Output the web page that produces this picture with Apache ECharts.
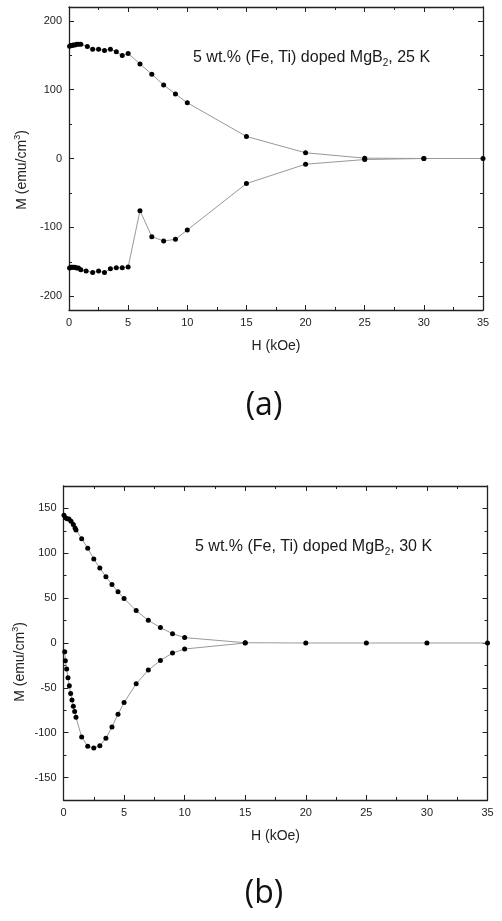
<!DOCTYPE html>
<html>
<head>
<meta charset="utf-8">
<script src="https://cdn.jsdelivr.net/npm/echarts@6/dist/echarts.min.js"></script>
<style>html,body{margin:0;padding:0;background:#fff;}#c{width:502px;height:921px;}</style>
</head>
<body>
<div id="c"></div>
<script>
// Panel (a): 25 K
var aUpH = [0.05,0.15,0.25,0.35,0.5,0.65,0.8,1.0,1.55,2.0,2.5,3.0,3.5,4.0,4.5,5.0,6.0,7.0,8.0,9.0,10.0,15.0,20.0,25.0,30.0,35.0];
var aUpM = [163,164,164,165,165,166,166,166,162.5,158.7,158.7,157,158.7,155,149.5,152.4,137.3,122.3,106.7,93.6,81,32,8.3,0.5,0,0];
var aDnH = [0.05,0.15,0.25,0.35,0.5,0.65,0.8,1.0,1.45,2.0,2.5,3.0,3.5,4.0,4.5,5.0,6.0,7.0,8.0,9.0,10.0,15.0,20.0,25.0,30.0];
var aDnM = [-159,-158,-158,-158,-158,-159,-159,-161.6,-163.5,-165.5,-163.5,-165.5,-160,-158.7,-158.7,-157.7,-75.7,-113.5,-119.8,-117.4,-103.8,-36.4,-8.3,-1.5,0];
// Panel (b): 30 K
var bUpH = [0.04,0.15,0.3,0.45,0.62,0.81,0.95,1.03,1.5,2.0,2.5,3.0,3.5,4.0,4.5,5.0,6.0,7.0,8.0,9.0,10.0,15.0,20.0,25.0,30.0,35.0];
var bUpM = [142.4,139.5,138.5,138.3,135.7,132,128.2,126,116.3,105.5,93.6,83.5,73.8,65.2,57,49.6,36.1,25.3,17.2,10.4,6,0.3,0,0,0,0];
var bDnH = [0.1,0.15,0.26,0.37,0.48,0.59,0.7,0.81,0.92,1.03,1.5,2.0,2.5,3.0,3.5,4.0,4.5,5.0,6.0,7.0,8.0,9.0,10.0,15.0];
var bDnM = [-9.7,-19.8,-29,-38.8,-47.7,-56.3,-63.4,-70.5,-76.4,-82.8,-104.8,-115.2,-117.1,-114.4,-106.3,-93.6,-79.4,-66.4,-45.5,-30.2,-19.4,-11.2,-6.7,0];

var aMajor = [-200,-100,0,100,200];
var aMinor = [-150,-50,50,150];
var bMajor = [-150,-100,-50,0,50,100,150];
var bMinor = [-125,-75,-25,25,75,125];
var xTicks = [0,5,10,15,20,25,30,35];

function zip(h, m) { return h.map(function (v, i) { return [v, m[i]]; }); }

var axisColor = '#222';
var FONT = 'Liberation Sans, Arial, sans-serif';
var labelFont = { color: '#222', fontSize: 11, fontFamily: FONT };

function xAx(grid, pos, labels) {
  return {
    type: 'value', gridIndex: grid, position: pos, min: 0, max: 35, interval: 5,
    name: labels ? 'H (kOe)' : '', nameLocation: 'middle', nameGap: 29,
    nameTextStyle: { color: '#222', fontSize: 14, fontFamily: FONT },
    axisLine: { show: true, onZero: false, lineStyle: { color: axisColor, width: 1.3 } },
    axisTick: { show: true, inside: true, length: 5, lineStyle: { color: axisColor } },
    minorTick: { show: true, splitNumber: 2, length: 3, lineStyle: { color: axisColor } },
    axisLabel: labels ? Object.assign({ show: true, margin: 7 }, labelFont) : { show: false },
    splitLine: { show: false }, minorSplitLine: { show: false }
  };
}
function yAx(grid, pos, lim, ticks, len, labels, line) {
  return {
    type: 'value', gridIndex: grid, position: pos, min: -lim, max: lim,
    axisLine: { show: line, onZero: false, lineStyle: { color: axisColor, width: 1.3 } },
    axisTick: { show: true, inside: true, length: len, customValues: ticks, lineStyle: { color: axisColor } },
    axisLabel: labels ? Object.assign({ show: true, margin: 7, customValues: ticks }, labelFont) : { show: false },
    splitLine: { show: false }
  };
}

function lineSeries(xi, yi, data) {
  return {
    type: 'line', xAxisIndex: xi, yAxisIndex: yi, data: data,
    symbol: 'circle', symbolSize: 5, showSymbol: true,
    itemStyle: { color: '#000' },
    lineStyle: { color: '#999', width: 1 },
    animation: false, z: 3
  };
}

function annot(x, y, temp) {
  return {
    type: 'text', x: x, y: y,
    style: {
      text: '5 wt.% (Fe, Ti) doped MgB{s|2}, ' + temp,
      fill: '#1a1a1a', fontSize: 16, fontFamily: FONT,
      verticalAlign: 'middle', lineHeight: 20,
      rich: { s: { fontSize: 10, fill: '#1a1a1a', lineHeight: 10, verticalAlign: 'bottom', fontFamily: FONT } }
    }
  };
}
function ylab(x, y) {
  return {
    type: 'text', x: x, y: y, rotation: Math.PI / 2,
    style: {
      text: 'M (emu/cm{p|3})', fill: '#222', fontSize: 14,
      fontFamily: FONT,
      align: 'center', verticalAlign: 'middle', lineHeight: 17,
      rich: { p: { fontSize: 9, fill: '#222', lineHeight: 9, verticalAlign: 'top', fontFamily: FONT } }
    }
  };
}
function panelLabel(x, y, t) {
  return {
    type: 'text', x: x, y: y,
    style: { text: t, fill: '#111', fontSize: 32, fontFamily: 'Open Sans, Noto Sans, sans-serif', align: 'center', verticalAlign: 'middle' }
  };
}

var option = {
  backgroundColor: '#fff',
  animation: false,
  grid: [
    { left: 69, top: 7, right: 19, bottom: 611 },
    { left: 63.5, top: 486, right: 14.5, bottom: 121 }
  ],
  xAxis: [xAx(0, 'bottom', true), xAx(0, 'top', false), xAx(1, 'bottom', true), xAx(1, 'top', false)],
  yAxis: [
    yAx(0, 'left', 220, aMajor, 5, true, true),
    yAx(0, 'left', 220, aMinor, 3, false, false),
    yAx(0, 'right', 220, aMajor, 5, false, true),
    yAx(0, 'right', 220, aMinor, 3, false, false),
    yAx(1, 'left', 175, bMajor, 5, true, true),
    yAx(1, 'left', 175, bMinor, 3, false, false),
    yAx(1, 'right', 175, bMajor, 5, false, true),
    yAx(1, 'right', 175, bMinor, 3, false, false)
  ],
  series: [
    lineSeries(0, 0, zip(aUpH, aUpM)),
    lineSeries(0, 0, zip(aDnH, aDnM)),
    lineSeries(2, 4, zip(bUpH, bUpM)),
    lineSeries(2, 4, zip(bDnH, bDnM))
  ],
  graphic: [
    annot(193, 58, '25 K'),
    annot(195, 547, '30 K'),
    ylab(22, 170),
    ylab(20, 662),
    panelLabel(264, 406, '(a)'),
    panelLabel(264, 894, '(b)')
  ]
};
var chart = echarts.init(document.getElementById('c'), null, { renderer: 'canvas' });
chart.setOption(option);
</script>
</body>
</html>
